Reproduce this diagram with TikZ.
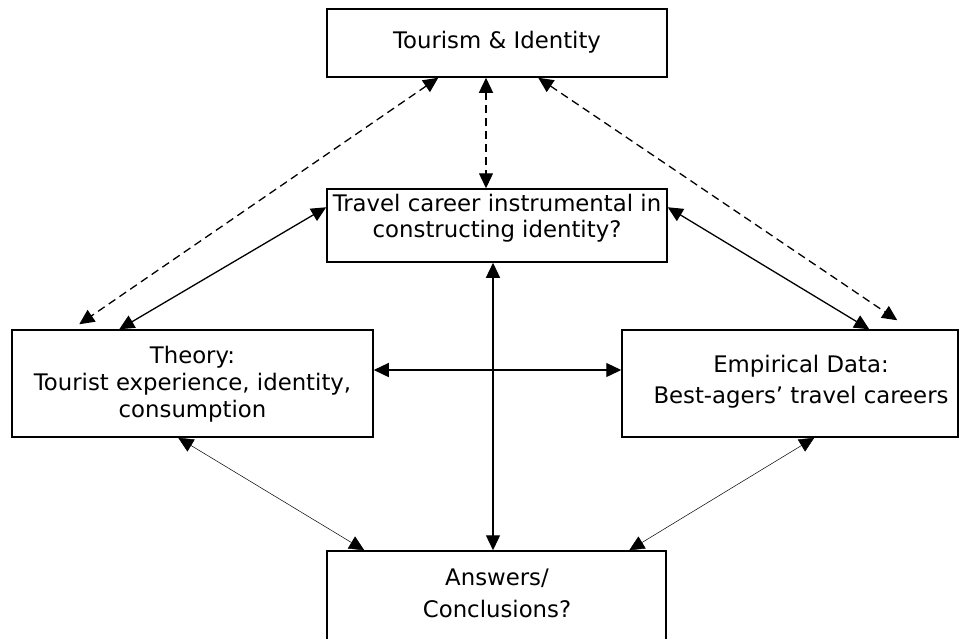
\documentclass[tikz,border=0pt]{standalone}
\usepackage{fontspec}
\setmainfont{DejaVu Sans}
\usetikzlibrary{arrows.meta}
\begin{document}
\begin{tikzpicture}[x=1pt,y=-1pt,
  box/.style={draw, line width=1.5pt, inner sep=0pt},
  txt/.style={anchor=base, inner sep=0pt, font=\fontsize{22.8}{27}\selectfont},
  both/.style={{Triangle[length=15pt,width=14pt]}-{Triangle[length=15pt,width=14pt]}},
  link/.style={both, line width=1.3pt},
  faint/.style={both, line width=0.5pt},
  dlink/.style={both, line width=1.3pt, dash pattern=on 8pt off 5pt}
]
\useasboundingbox[fill=white] (0,0) rectangle (971,638);

% boxes
\node[box, minimum width=340pt, minimum height=68pt]  (top)    at (497,43)      {};
\node[box, minimum width=340pt, minimum height=73pt]  (mid)    at (497,225.5)   {};
\node[box, minimum width=361pt, minimum height=107pt] (theory) at (192.5,383.5) {};
\node[box, minimum width=336pt, minimum height=107pt] (emp)    at (790,383.5)   {};
\node[box, minimum width=339pt, minimum height=89pt]  (ans)    at (496.5,595.5) {};

% box texts
\node[txt] (top1) at (497,48)  {Tourism \& Identity};
\node[txt] (mid1) at (497,211) {Travel career instrumental in};
\node[txt] (mid2) at (497,237) {constructing identity?};
\node[txt] (th1)  at (192.5,363) {Theory:};
\node[txt] (th2)  at (192.5,390) {Tourist experience, identity,};
\node[txt] (th3)  at (192.5,417) {consumption};
\node[txt] (em1)  at (801,372) {Empirical Data:};
\node[txt] (em2)  at (801,403) {Best-agers’ travel careers};
\node[txt] (an1)  at (497,585) {Answers/};
\node[txt] (an2)  at (497,617) {Conclusions?};

% dashed links from the top box
\draw[dlink] ([xshift=112pt]top.south west) -- ([xshift=68pt,yshift=5pt]theory.north west);
\draw[dlink] ([xshift=-11pt]top.south) -- ([xshift=-11pt]mid.north);
\draw[dlink] ([xshift=212pt]top.south west) -- ([xshift=276pt,yshift=9pt]emp.north west);

% solid links
\draw[link] ([yshift=-19pt]mid.north west) -- ([xshift=108pt]theory.north west);
\draw[link] ([yshift=-19pt]mid.north east) -- ([xshift=248pt]emp.north west);
\draw[link] ([yshift=13.5pt]theory.east) -- ([yshift=13.5pt]emp.west);
\draw[link] ([xshift=-4pt]mid.south) -- ([xshift=-3.5pt]ans.north);

% thin links to the answers box
\draw[faint] ([xshift=167pt]theory.south west) -- ([xshift=38pt]ans.north west);
\draw[faint] ([xshift=193pt]emp.south west) -- ([xshift=303pt]ans.north west);
\end{tikzpicture}
\end{document}
